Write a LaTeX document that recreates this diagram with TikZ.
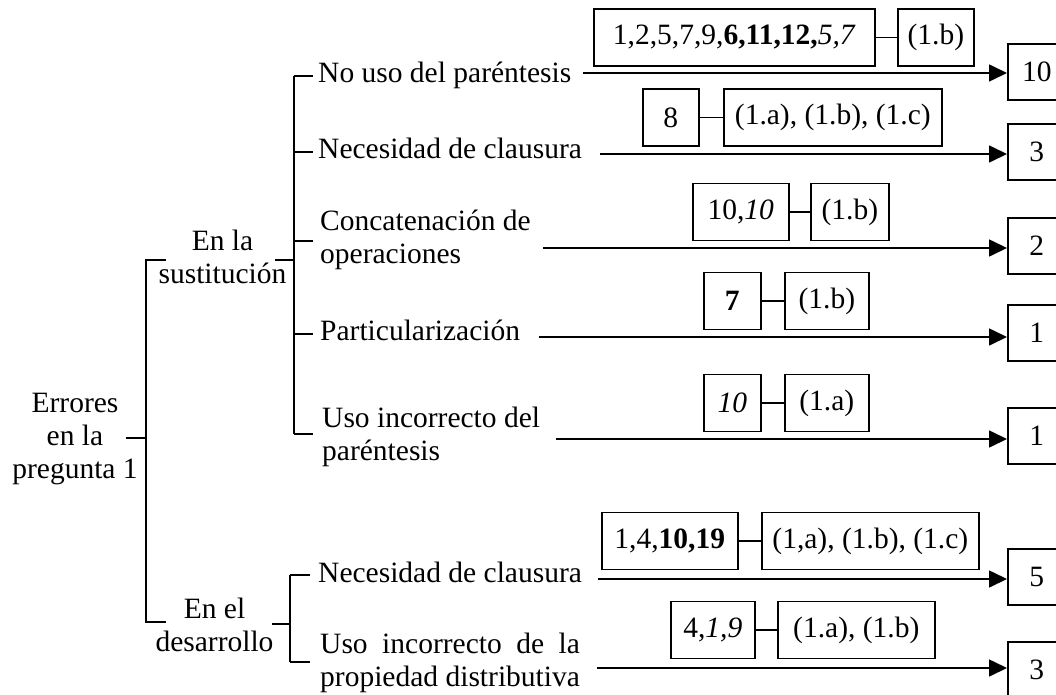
\documentclass[tikz,border=0pt]{standalone}
\usepackage{fontspec}
\setmainfont{Liberation Serif}
\usepackage{calc}
\usetikzlibrary{arrows.meta}
\newcommand{\txtfont}{\fontsize{29.5}{33}\selectfont}
\tikzset{
  lbl/.style={inner sep=0pt, font=\txtfont},
  ebox/.style={draw, line width=1.6pt, minimum height=57pt, inner sep=0pt, anchor=west, font=\txtfont},
  rbox/.style={draw, line width=1.6pt, minimum width=58pt, minimum height=56pt, inner sep=0pt, anchor=north west, font=\txtfont},
  ln/.style={line width=1.6pt},
  arr/.style={line width=1.6pt, -{Triangle[length=18pt,width=17pt]}},
}
\begin{document}
\begin{tikzpicture}[x=1pt,y=-1pt]
\useasboundingbox (0,0) rectangle (1056,695);
\clip (0,0) rectangle (1056,695);

% text nodes
\node[lbl, anchor=base] (root) at (75,412) {\begin{tabular}[t]{@{}c@{}}Errores\\en la\\pregunta 1\end{tabular}};
\node[lbl, anchor=base] (sust) at (222.5,250) {\begin{tabular}[t]{@{}c@{}}En la\\sustitución\end{tabular}};
\node[lbl, anchor=base] (desa) at (214.5,618) {\begin{tabular}[t]{@{}c@{}}En el\\desarrollo\end{tabular}};

\node[lbl, anchor=base west] (n1) at (318,83) {No uso del paréntesis};
\node[lbl, anchor=base west] (n2) at (318,158) {Necesidad de clausura};
\node[lbl, anchor=base west] (n3) at (320,230) {\begin{tabular}[t]{@{}l@{}}Concatenación de\\operaciones\end{tabular}};
\node[lbl, anchor=base west] (n4) at (320,340) {Particularización};
\node[lbl, anchor=base west] (n5) at (322,427) {\begin{tabular}[t]{@{}l@{}}Uso incorrecto del\\paréntesis\end{tabular}};
\node[lbl, anchor=base west] (n6) at (318,582) {Necesidad de clausura};
\node[lbl, anchor=base west] (n7) at (320,653) {\begin{tabular}[t]{@{}l@{}}\makebox[\widthof{propiedad distributiva}][s]{Uso incorrecto de la}\\propiedad distributiva\end{tabular}};

% result boxes
\node[rbox] (r1) at (1007,43) {10};
\node[rbox] (r2) at (1007,123) {3};
\node[rbox] (r3) at (1007,217) {2};
\node[rbox] (r4) at (1007,304) {1};
\node[rbox] (r5) at (1007,407) {1};
\node[rbox] (r6) at (1007,548) {5};
\node[rbox] (r7) at (1007,641) {3};

% evidence boxes
\node[ebox, minimum width=281pt] (e1a) at (593,37.5) {1,2,5,7,9,\textbf{6,11,12,}\textit{5,7}};
\node[ebox, minimum width=76pt] (e1b) at (897,37.5) {(1.b)};
\node[ebox, minimum width=56pt] (e2a) at (642,117.5) {8};
\node[ebox, minimum width=218pt] (e2b) at (723,117.5) {(1.a), (1.b), (1.c)};
\node[ebox, minimum width=96pt] (e3a) at (692,212) {10,\textit{10}};
\node[ebox, minimum width=78pt] (e3b) at (810,212) {(1.b)};
\node[ebox, minimum width=57pt] (e4a) at (703,301) {\textbf{7}};
\node[ebox, minimum width=84pt] (e4b) at (784,301) {(1.b)};
\node[ebox, minimum width=57pt] (e5a) at (703,403) {\textit{10}};
\node[ebox, minimum width=84pt] (e5b) at (784,403) {(1.a)};
\node[ebox, minimum width=136pt] (e6a) at (601,541) {1,4,\textbf{10,19}};
\node[ebox, minimum width=217pt] (e6b) at (761,541) {(1,a), (1.b), (1.c)};
\node[ebox, minimum width=84pt] (e7a) at (670,630) {4,\textit{1,9}};
\node[ebox, minimum width=157pt] (e7b) at (777,630) {(1.a), (1.b)};

\foreach \i in {1,...,7} {\draw[ln] (e\i a.east) -- (e\i b.west);}

% root bracket
\coordinate (rt) at (126,438);
\coordinate (rbt) at (146,260);
\coordinate (rbb) at (146,622);
\draw[ln] (rt) -- (rt -| rbt);
\draw[ln] (166,260) -- (rbt) -- (rbb) -- (166,622);

% sustitucion bracket
\coordinate (st) at (275,260);
\coordinate (sbt) at (294,76);
\coordinate (sbb) at (294,434);
\draw[ln] (st) -- (st -| sbt);
\draw[ln] (sbt) -- (sbb);
\draw[ln] (sbt) -- (313,76);
\draw[ln] (294,152) -- (313,152);
\draw[ln] (294,241) -- (313,241);
\draw[ln] (294,334) -- (313,334);
\draw[ln] (sbb) -- (313,434);

% desarrollo bracket
\coordinate (dt) at (272,624);
\coordinate (dbt) at (290,575);
\coordinate (dbb) at (290,662);
\draw[ln] (dt) -- (dt -| dbt);
\draw[ln] (dbt) -- (dbb);
\draw[ln] (dbt) -- (310,575);
\draw[ln] (dbb) -- (310,662);

% arrows
\coordinate (s1) at (583,73);
\coordinate (s2) at (600,154);
\coordinate (s3) at (543,248);
\coordinate (s4) at (539,337);
\coordinate (s5) at (556,439);
\coordinate (s6) at (598,579);
\coordinate (s7) at (597,668);
\foreach \i in {1,...,7} {\draw[arr] (s\i) -- (s\i -| r\i.west);}
\end{tikzpicture}
\end{document}
